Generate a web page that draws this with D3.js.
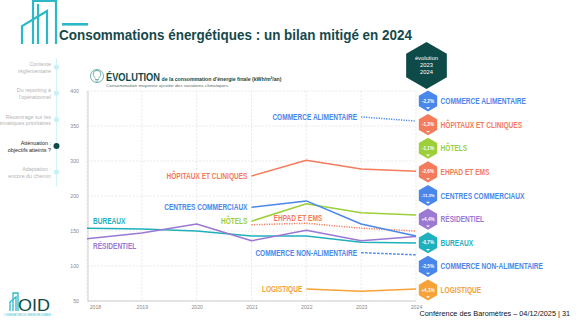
<!DOCTYPE html>
<html><head><meta charset="utf-8">
<script src="https://cdn.jsdelivr.net/npm/d3@7"></script>
<style>
html,body{margin:0;padding:0;background:#fff;}
svg{display:block;}
text{font-family:"Liberation Sans",Arial,sans-serif;}
.cond{font-family:"Liberation Sans","DejaVu Sans Condensed",sans-serif;font-weight:bold;}
</style></head>
<body>
<svg id="c" width="576" height="321"></svg>
<script>
// ---------- DATA ----------
const years = [2018, 2019, 2020, 2021, 2022, 2023, 2024];
const yTickValues = [50, 100, 150, 200, 300, 350, 400];

const bureaux            = [154, 153, 150, 143, 143, 134, 133];  // 2018-2024
const residentiel        = [139, 147, 160, 136, 151, 136, 142];  // 2018-2024
const centresCommerciaux = [184, 193, 160, 143];                 // 2021-2024
const hotels             = [164, 189, 176, 173];                 // 2021-2024
const ehpad              = [159, 161, 154, 150];                 // 2021-2024
const hopitaux           = [257, 301, 277, 271];                 // 2021-2024
const commerceAlim       = [363, 357];                           // 2023-2024
const commerceNonAlim    = [119, 116];                           // 2023-2024
const logistique         = [67, 64, 67];                         // 2022-2024

const legendNames = ["COMMERCE  ALIMENTAIRE", "HÔPITAUX ET CLINIQUES", "HÔTELS", "EHPAD ET EMS",
  "CENTRES COMMERCIAUX", "RÉSIDENTIEL", "BUREAUX", "COMMERCE NON-ALIMENTAIRE", "LOGISTIQUE"];
const legendEvol = ["-2,2%", "-1,3%", "-1,1%", "-2,6%", "-11,3%", "+4,4%", "-0,7%", "-2,5%", "+4,1%"];

const navItems = [["Contexte", "réglementaire"], ["Du reporting à", "l'opérationnel"],
  ["Recentrage sur les", "thématiques prioritaires"], ["Atténuation :", "objectifs atteints ?"],
  ["Adaptation :", "encore du chemin"]];
const activeNav = 3;

// ---------- COLOURS ----------
const C = {blue:"#4a87ea", coral:"#f47c5c", green:"#9ccf3a", purple:"#9b78d2", teal:"#1fb0be",
  orange:"#f5a238", dark:"#0e4a47", logo:"#2bb8c8"};
const legendColors = [C.blue, C.coral, C.green, C.coral, C.blue, C.purple, C.teal, C.blue, C.orange];

const series = [
  {name:"BUREAUX", start:2018, v:bureaux, color:C.teal, dash:null, lab:"aboveStart"},
  {name:"RÉSIDENTIEL", start:2018, v:residentiel, color:C.purple, dash:null, lab:"belowStart"},
  {name:"HÔPITAUX ET CLINIQUES", start:2021, v:hopitaux, color:C.coral, dash:null, lab:"left"},
  {name:"EHPAD ET EMS", start:2021, v:ehpad, color:C.coral, dash:"1.2,1.3", lab:"above"},
  {name:"HÔTELS", start:2021, v:hotels, color:C.green, dash:null, lab:"left"},
  {name:"CENTRES COMMERCIAUX", start:2021, v:centresCommerciaux, color:C.blue, dash:null, lab:"left"},
  {name:"COMMERCE ALIMENTAIRE", start:2023, v:commerceAlim, color:C.blue, dash:"1.2,1.3", lab:"left"},
  {name:"COMMERCE NON-ALIMENTAIRE", start:2023, v:commerceNonAlim, color:C.blue, dash:"2.5,1.5", lab:"left"},
  {name:"LOGISTIQUE", start:2022, v:logistique, color:C.orange, dash:null, lab:"left"}
];

const svg = d3.select("#c");
// condense a bold text horizontally
function condense(sel, k){
  sel.each(function(){
    const w = this.getComputedTextLength();
    d3.select(this).attr("textLength", w*k).attr("lengthAdjust","spacingAndGlyphs");
  });
  return sel;
}

// ---------- HEADER ----------
const logo = svg.append("g").attr("fill","none").attr("stroke",C.logo).attr("stroke-width",2.2);
logo.append("path").attr("d","M22,44 V26 L47,11 V44");
logo.append("path").attr("d","M33,44 V1 H56 V44");
logo.append("path").attr("d","M38,44 V4");
svg.append("rect").attr("x",62).attr("y",23).attr("width",26).attr("height",2.6).attr("fill",C.logo);
svg.append("text").attr("x",59).attr("y",39.5).attr("font-size",15.5).attr("font-weight","bold")
  .attr("fill","#16494b").attr("textLength",353).attr("lengthAdjust","spacingAndGlyphs")
  .text("Consommations énergétiques : un bilan mitigé en 2024");

// ---------- LEFT NAV ----------
const navY = [67, 93, 119.5, 146, 172];
svg.append("line").attr("x1",56.5).attr("x2",56.5).attr("y1",58).attr("y2",186)
  .attr("stroke","#d3f4f7").attr("stroke-width",1.2);
navItems.forEach((lines,i)=>{
  const act = i===activeNav;
  svg.append("circle").attr("cx",56.5).attr("cy",navY[i]).attr("r",act?3:2.6)
    .attr("fill",act?C.dark:"#c9f1f5");
  lines.forEach((t,j)=>{
    svg.append("text").attr("x",51).attr("y",navY[i]-1+j*6.8).attr("text-anchor","end")
      .attr("font-size",5.4).attr("fill",act?"#1c1c1c":"#b4b4b4").text(t);
  });
});

// ---------- CHART HEADER ----------
const ic = svg.append("g").attr("fill","none").attr("stroke","#3a8f8a").attr("stroke-width",0.7);
ic.append("circle").attr("cx",97).attr("cy",76).attr("r",6.5);
ic.append("path").attr("d","M95.2,79.5 h3.6 M95.6,81 h2.8 M95.2,78.5 c0,-1.5 -2,-2.3 -2,-4.3 a3,3 0 0 1 7.6,0 c0,2 -2,2.8 -2,4.3");
svg.append("text").attr("x",106).attr("y",81).attr("font-size",11.5).attr("font-weight","bold")
  .attr("fill",C.dark).attr("textLength",54).attr("lengthAdjust","spacingAndGlyphs").text("ÉVOLUTION");
svg.append("text").attr("x",161.5).attr("y",81).attr("font-size",5.6).attr("font-weight","bold")
  .attr("fill",C.dark).attr("textLength",120).attr("lengthAdjust","spacingAndGlyphs")
  .text("de la consommation d'énergie finale (kWh/m²/an)");
svg.append("text").attr("x",106).attr("y",87.3).attr("font-size",4.4).attr("fill","#5a6e6c")
  .attr("textLength",122).attr("lengthAdjust","spacingAndGlyphs")
  .text("Consommation moyenne ajustée des variations climatiques");

// ---------- SCALES ----------
const x = d3.scaleLinear().domain([2018, 2024]).range([87, 416]);
const y = d3.scaleLinear().domain([50, 200, 300, 400]).range([301, 196, 161, 91]);

// grid
const grid = svg.append("g").attr("stroke","#dcdcdc").attr("stroke-width",0.6).attr("stroke-dasharray","2,1.5");
yTickValues.forEach(v=>{
  grid.append("line").attr("x1",x(2018)).attr("x2",x(2024)).attr("y1",y(v)).attr("y2",y(v));
});
years.forEach(yr=>{
  grid.append("line").attr("x1",x(yr)).attr("x2",x(yr)).attr("y1",y(400)).attr("y2",y(50));
});
// axes lines
svg.append("line").attr("x1",x(2018)+1).attr("x2",x(2018)+1).attr("y1",y(400)).attr("y2",y(50)+0.5)
  .attr("stroke","#cfcfcf").attr("stroke-width",1);
svg.append("line").attr("x1",x(2018)+1).attr("x2",x(2024)).attr("y1",y(50)).attr("y2",y(50))
  .attr("stroke","#cfcfcf").attr("stroke-width",1);

// y tick labels via axis
const yAxis = svg.append("g").attr("transform",`translate(${x(2018)-5},0)`)
  .call(d3.axisLeft(y).tickValues(yTickValues).tickSize(0).tickFormat(d3.format("d")));
yAxis.select(".domain").remove();
yAxis.selectAll("text").attr("font-size",5.2).attr("fill","#8a8a8a").attr("font-family","Liberation Sans");

// x tick labels
const xAxis = svg.append("g").attr("transform",`translate(0,${y(50)+1.8})`)
  .call(d3.axisBottom(x).tickValues(years).tickSize(0).tickFormat(d3.format("d")));
xAxis.select(".domain").remove();
xAxis.selectAll("text").attr("font-size",5.2).attr("fill","#8a8a8a").attr("font-family","Liberation Sans")
  .attr("dx",(d,i)=> i===0 ? 8 : 0);

// ---------- LINES ----------
const line = d3.line().x(d=>x(d[0])).y(d=>y(d[1]));
series.forEach(s=>{
  const pts = s.v.map((v,i)=>[s.start+i, v]);
  svg.append("path").datum(pts).attr("d",line).attr("fill","none").attr("stroke",s.color)
    .attr("stroke-width",1.5).attr("stroke-dasharray",s.dash).attr("stroke-linejoin","round");
  const t = svg.append("text").attr("class","cond").attr("font-size",8.2).attr("fill",s.color).text(s.name);
  condense(t, 0.8);
  const x0 = x(s.start), y0 = y(s.v[0]);
  if (s.lab==="left") t.attr("x",x0-4).attr("y",y0+3).attr("text-anchor","end");
  else if (s.lab==="above") t.attr("x",(x(s.start)+x(s.start+1))/2+19).attr("y",y0-3.5).attr("text-anchor","middle");
  else if (s.lab==="aboveStart") t.attr("x",x0+6).attr("y",y0-4).attr("text-anchor","start");
  else if (s.lab==="belowStart") t.attr("x",x0+6).attr("y",y0+10).attr("text-anchor","start");
});

// ---------- RIGHT LEGEND ----------
function hexPath(cx, cy, r){
  const p = d3.range(6).map(k=>{const a = Math.PI/3*k - Math.PI/2; return [cx + r*Math.cos(a), cy + r*Math.sin(a)];});
  return "M" + p.map(q=>q.join(",")).join("L") + "Z";
}
svg.append("path").attr("d",hexPath(426.5,65.5,23.5)).attr("fill",C.dark);
["évolution","2023","2024"].forEach((t,i)=>{
  svg.append("text").attr("x",426.5).attr("y",59.5+i*7.3).attr("text-anchor","middle")
    .attr("font-size",5.8).attr("fill","#fff").text(t);
});
const legY = d3.scaleLinear().domain([0,8]).range([101,290]);
legendNames.forEach((n,i)=>{
  const cy = legY(i), cx = 428;
  svg.append("path").attr("d",hexPath(cx,cy,10.6)).attr("fill",legendColors[i]);
  svg.append("text").attr("x",cx).attr("y",cy+1.6).attr("text-anchor","middle")
    .attr("font-size",legendEvol[i].length>5?4.3:4.6).attr("fill","#fff").attr("font-weight","bold").text(legendEvol[i]);
  svg.append("path").attr("d",`M${cx-2},${cy+6.3} L${cx+2},${cy+6.3} L${cx},${cy+8.2} Z`).attr("fill","#fff");
  const t = svg.append("text").attr("class","cond").attr("x",440.5).attr("y",cy+3).attr("font-size",8.8)
    .attr("fill",legendColors[i]).text(n);
  condense(t, 0.75);
});

// ---------- FOOTER ----------
const foot = svg.append("text").attr("x",419.5).attr("y",316).attr("font-size",8).attr("fill","#111")
  .text("Conférence des Baromètres – 04/12/2025 | 31");
{ const w = foot.node().getComputedTextLength(); foot.attr("font-size", 8*151/w); }
const oid = svg.append("g");
oid.append("path").attr("d","M10,311 V302 L16,297 V311 M13,311 V293 H18 V311").attr("fill","none")
  .attr("stroke",C.logo).attr("stroke-width",1.3);
oid.append("text").attr("x",18).attr("y",311).attr("font-size",17).attr("fill",C.dark)
  .attr("textLength",32).attr("lengthAdjust","spacingAndGlyphs").text("OID");
oid.append("text").attr("x",4).attr("y",316).attr("font-size",2.6).attr("fill",C.logo)
  .attr("textLength",47).attr("lengthAdjust","spacingAndGlyphs").text("L'OBSERVATOIRE DE L'IMMOBILIER DURABLE");
</script>
</body></html>
